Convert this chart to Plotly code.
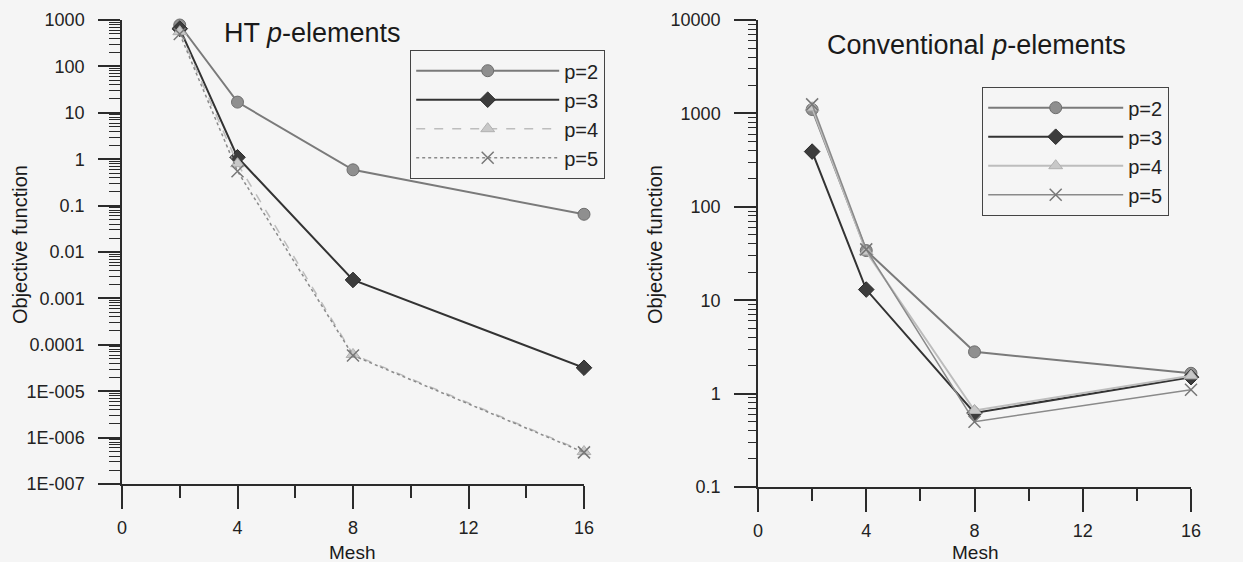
import plotly.graph_objects as go

mesh = [2, 4, 8, 16]

ht_p2 = [780, 17, 0.59, 0.065]
ht_p3 = [650, 1.1, 0.0025, 3.2e-5]
ht_p4 = [560, 0.8, 6.2e-5, 5.0e-7]
ht_p5 = [500, 0.55, 5.9e-5, 4.8e-7]

conv_p2 = [1100, 34, 2.8, 1.65]
conv_p3 = [390, 13, 0.62, 1.5]
conv_p4 = [1150, 33, 0.66, 1.55]
conv_p5 = [1250, 35, 0.5, 1.1]

series_names = ["p=2", "p=3", "p=4", "p=5"]

ht_ticks = [1e-7, 1e-6, 1e-5, 1e-4, 1e-3, 1e-2, 0.1, 1, 10, 100, 1000]
ht_ticktext = ["1E-007", "1E-006", "1E-005", "0.0001", "0.001", "0.01", "0.1", "1", "10", "100", "1000"]
conv_ticks = [0.1, 1, 10, 100, 1000, 10000]
conv_ticktext = ["0.1", "1", "10", "100", "1000", "10000"]
mesh_ticks = [0, 4, 8, 12, 16]
mesh_minor = [2, 6, 10, 14]

FONT = "Arial, Liberation Sans, sans-serif"
AX = "#2b2b2b"
PAD = "\u00a0\u00a0"

W, H = 1243.0, 562.0


def fx(px):
    return px / W


def fy(py):
    return 1 - py / H


styles = [
    dict(marker=dict(symbol="circle", size=12, color="#8f8f8f", line=dict(color="#6e6e6e", width=1)),
         line=dict(color="#7a7a7a", width=2)),
    dict(marker=dict(symbol="diamond", size=12, color="#3c3c3c", line=dict(color="#2a2a2a", width=1)),
         line=dict(color="#333333", width=2)),
    dict(marker=dict(symbol="triangle-up", size=12, color="#c8c8c8", line=dict(color="#b0b0b0", width=1)),
         line=dict(color="#bdbdbd", width=2)),
    dict(marker=dict(symbol="x-thin", size=12, color="#777777", line=dict(color="#777777", width=1.5)),
         line=dict(color="#8a8a8a", width=1.5)),
]

fig = go.Figure()

for name, ys, st in zip(series_names, [ht_p2, ht_p3, ht_p4, ht_p5], styles):
    ln = dict(st["line"])
    if name == "p=5":
        ln["dash"] = "dot"
    if name == "p=4":
        ln["dash"] = "dash"
        ln["width"] = 1.5
    fig.add_trace(go.Scatter(x=mesh, y=ys, mode="lines+markers", name=name,
                             marker=st["marker"], line=ln, xaxis="x", yaxis="y",
                             legend="legend", cliponaxis=False))

for name, ys, st in zip(series_names, [conv_p2, conv_p3, conv_p4, conv_p5], styles):
    fig.add_trace(go.Scatter(x=mesh, y=ys, mode="lines+markers", name=name,
                             marker=st["marker"], line=st["line"], xaxis="x2", yaxis="y2",
                             legend="legend2", cliponaxis=False))


def xaxis_cfg(domain, anchor):
    return dict(domain=domain, anchor=anchor, range=[0, 16], tickvals=mesh_ticks,
                automargin=False,
                showgrid=False, zeroline=False, showline=True, linecolor=AX, linewidth=1.5,
                ticks="outside", ticklen=23, tickwidth=1.5, tickcolor=AX,
                ticklabelstandoff=4,
                minor=dict(ticks="outside", ticklen=12, tickwidth=1.5, tickcolor=AX,
                           tickvals=mesh_minor, showgrid=False),
                tickfont=dict(size=18, color="#222", family=FONT))


def yaxis_cfg(domain, anchor, rng, tv, tt, minlen):
    return dict(domain=domain, anchor=anchor, type="log", range=rng,
                automargin=False,
                tickvals=tv, ticktext=[t + PAD for t in tt], showgrid=False, zeroline=False,
                showline=True, linecolor=AX, linewidth=1.5,
                ticks="outside", ticklen=22, tickwidth=1.5, tickcolor=AX,
                minor=dict(ticks="outside", ticklen=minlen, tickwidth=1, tickcolor=AX,
                           dtick="D1", showgrid=False),
                tickfont=dict(size=18, color="#222", family=FONT))


def ann(text, px, py, size, angle=0):
    return dict(text=text, x=fx(px), y=fy(py), xref="paper", yref="paper",
                xanchor="center", yanchor="middle", textangle=angle,
                showarrow=False, font=dict(size=size, family=FONT, color="#1a1a1a"))


fig.update_layout(
    width=int(W), height=int(H),
    margin=dict(l=0, r=0, t=0, b=0, autoexpand=False),
    paper_bgcolor="#f5f5f5", plot_bgcolor="rgba(0,0,0,0)",
    font=dict(family=FONT, color="#222"),
    xaxis=xaxis_cfg([fx(122), fx(584)], "y"),
    yaxis=yaxis_cfg([fy(484), fy(20)], "x", [-7, 3], ht_ticks, ht_ticktext, 11),
    xaxis2=xaxis_cfg([fx(758), fx(1191)], "y2"),
    yaxis2=yaxis_cfg([fy(487), fy(20)], "x2", [-1, 4], conv_ticks, conv_ticktext, 8),
    legend=dict(x=fx(410), y=fy(50), xanchor="left", yanchor="top",
                bgcolor="rgba(0,0,0,0)", bordercolor="#444", borderwidth=1.2,
                itemwidth=143, font=dict(size=20, family=FONT, color="#222"),
                tracegroupgap=0),
    legend2=dict(x=fx(982), y=fy(87), xanchor="left", yanchor="top",
                 bgcolor="rgba(0,0,0,0)", bordercolor="#444", borderwidth=1.2,
                 itemwidth=135, font=dict(size=20, family=FONT, color="#222"),
                 tracegroupgap=0),
    annotations=[
        ann("HT <i>p</i>-elements", 312, 33, 27),
        ann("Conventional <i>p</i>-elements", 976, 45, 27),
        ann("Objective function", 20, 245, 20, -90),
        ann("Objective function", 655, 245, 20, -90),
        ann("Mesh", 352, 552, 19),
        ann("Mesh", 975, 552, 19),
    ],
)

fig.write_html("out.html")
